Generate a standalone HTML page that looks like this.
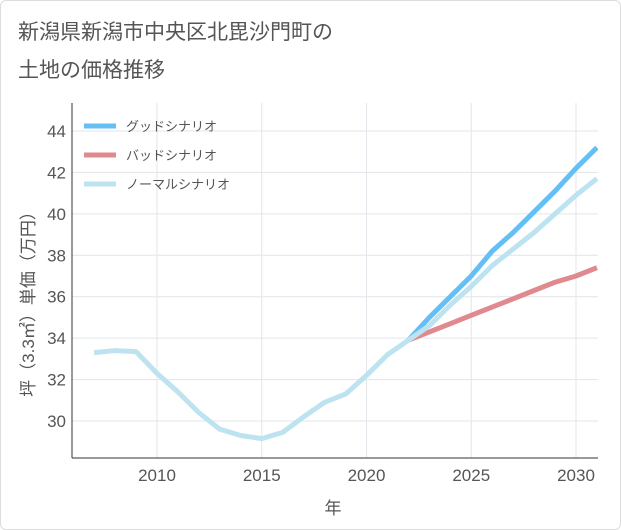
<!DOCTYPE html>
<html><head><meta charset="utf-8"><style>
body{margin:0;background:#fff;font-family:"Liberation Sans","Noto Sans CJK JP",sans-serif;}
#wrap{position:relative;width:621px;height:530px;background:#fff;}
#frame{position:absolute;left:0;top:0;width:619px;height:528px;border:1px solid #ddd;border-radius:6px;}
.title{position:absolute;left:18px;font-size:21px;color:#555;}
</style></head><body>
<div id="wrap">
<div id="frame"></div>
<div class="title" style="top:16px">新潟県新潟市中央区北毘沙門町の</div>
<div class="title" style="top:54px">土地の価格推移</div>
<svg id="chart" width="621" height="530" style="position:absolute;left:0;top:0"></svg>
</div>
<script>
const years=[2007,2008,2009,2010,2011,2012,2013,2014,2015,2016,2017,2018,2019,2020,2021,2022];
const history=[33.3,33.4,33.35,32.3,31.4,30.4,29.6,29.3,29.15,29.45,30.2,30.9,31.3,32.2,33.2,33.9];
const futureYears=[2022,2023,2024,2025,2026,2027,2028,2029,2030,2031];
const good=[33.9,35.0,36.0,37.0,38.2,39.1,40.1,41.1,42.2,43.2];
const bad=[33.9,34.3,34.7,35.1,35.5,35.9,36.3,36.7,37.0,37.4];
const normal=[33.9,34.6,35.6,36.5,37.5,38.3,39.1,40.0,40.9,41.7];
const yTicks=[30,32,34,36,38,40,42,44];
const xTicks=[2010,2015,2020,2025,2030];
const seriesNames=["グッドシナリオ","バッドシナリオ","ノーマルシナリオ"];
const seriesColors=["#64bff5","#e08a90","#bde3f0"];

const svg=document.getElementById('chart');
const NS="http://www.w3.org/2000/svg";
const L=72,R=598,T=103,B=458;
const xs=y=>157+(y-2010)*(576-157)/20;
const ys=v=>421-(v-30)*(421-131)/14;
function mk(tag,attrs){const e=document.createElementNS(NS,tag);for(const k in attrs)e.setAttribute(k,attrs[k]);svg.appendChild(e);return e;}

const bg=mk('rect',{x:L,y:T,width:R-L,height:B-T,fill:'#fff',stroke:'none'});


yTicks.forEach(v=>{
 const g=mk('line',{x1:L,x2:R,y1:ys(v),y2:ys(v),stroke:'#e2e6ea','stroke-width':1});
 
 
 const t=mk('text',{x:L-6,y:ys(v)+6,'text-anchor':'end','font-size':17,fill:'#555'});
 t.textContent=v;
 
 
});
xTicks.forEach(v=>{
 const g=mk('line',{x1:xs(v),x2:xs(v),y1:T,y2:B,stroke:'#e2e6ea','stroke-width':1});
 
 
 const t=mk('text',{x:xs(v),y:B+23,'text-anchor':'middle','font-size':17,fill:'#555'});
 t.textContent=v;
 
 
});
const ax=mk('line',{x1:L,x2:L,y1:T,y2:B,stroke:'#333','stroke-width':1});


const bx=mk('line',{x1:L,x2:R,y1:B,y2:B,stroke:'#333','stroke-width':1});



const cp=mk('clipPath',{id:'clip'});
const cr=document.createElementNS(NS,'rect');cr.setAttribute('x',L);cr.setAttribute('y',T);cr.setAttribute('width',R-L);cr.setAttribute('height',B-T);cp.appendChild(cr);
function line(xv,yv,color,name){
 const p=mk('polyline',{points:xv.map((x,i)=>xs(x)+','+ys(yv[i])).join(' '),fill:'none',stroke:color,'stroke-width':5,'stroke-linejoin':'round','clip-path':'url(#clip)'});
 
 
}
line(futureYears,bad,seriesColors[1],'bad-scenario-line');
line(futureYears,good,seriesColors[0],'good-scenario-line');
line(futureYears,normal,seriesColors[2],'normal-scenario-line');
line(years,history,seriesColors[2],'historical-line');

seriesNames.forEach((n,i)=>{
 const y=126+i*29;
 const l=mk('line',{x1:84,x2:116,y1:y,y2:y,stroke:seriesColors[i],'stroke-width':5});
 
 
 const t=mk('text',{x:126,y:y+5,'font-size':13,fill:'#555'});
 t.textContent=n;
 
 
});
const yt=mk('text',{x:0,y:0,'font-size':17,fill:'#555','text-anchor':'middle',transform:'translate(34,300) rotate(-90)'});
yt.textContent='坪（3.3㎡）単価（万円）';


const xt=mk('text',{x:333,y:514,'font-size':17,fill:'#555','text-anchor':'middle'});
xt.textContent='年';


</script>
</body></html>
